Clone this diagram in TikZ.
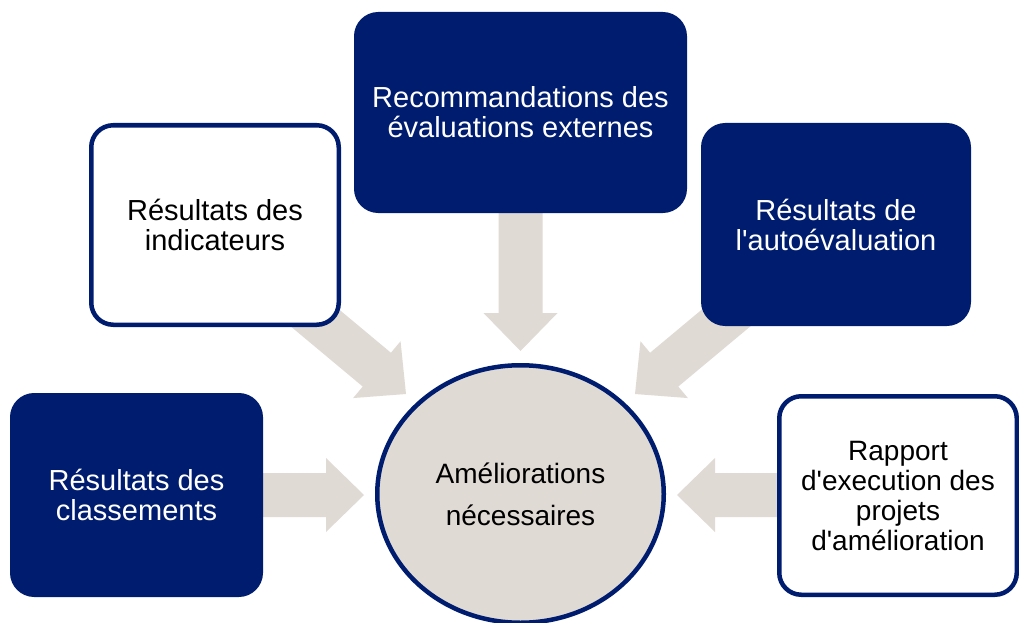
\documentclass[tikz,border=0pt]{standalone}
\usepackage{fontspec}
\setmainfont{Liberation Sans}
\usetikzlibrary{calc,shapes.geometric}
\definecolor{navy}{RGB}{0,28,110}
\definecolor{sand}{RGB}{223,218,211}
\newcommand\blockarrow[3]{% #1 prefix, #2 start, #3 tip
  \coordinate (#1h) at ($(#3)!38pt!(#2)$);
  \fill[sand] ($(#2)!22pt!90:(#3)$) -- ($(#1h)!22pt!90:(#3)$) -- ($(#1h)!37pt!90:(#3)$)
    -- (#3) -- ($(#1h)!37pt!-90:(#3)$) -- ($(#1h)!22pt!-90:(#3)$) -- ($(#2)!22pt!-90:(#3)$) -- cycle;
}
\tikzset{
  box/.style={rectangle, rounded corners=22pt, line width=4.5pt, align=center,
    font=\fontsize{29}{30}\selectfont, inner sep=0pt},
  darkbox/.style={box, draw=navy, fill=navy, text=white},
  lightbox/.style={box, draw=navy, fill=white, text=black},
}
\begin{document}
\begin{tikzpicture}[x=1pt,y=-1pt]
\useasboundingbox (0,0) rectangle (1019,623);
% anchor coordinates for arrows
\coordinate (tS) at (520.5,200);
\coordinate (tT) at (520.5,351);
\coordinate (lS) at (250,495);
\coordinate (lT) at (364,495);
\coordinate (rS) at (790,495);
\coordinate (rT) at (677,495);
\coordinate (ulT) at (406,394);
\coordinate (ulS) at (291,298);
\coordinate (urT) at (635,394);
\coordinate (urS) at (750,298);
\blockarrow{t}{tS}{tT}
\blockarrow{l}{lS}{lT}
\blockarrow{r}{rS}{rT}
\blockarrow{ul}{ulS}{ulT}
\blockarrow{ur}{urS}{urT}
% boxes
\node[darkbox, minimum width=328.5pt, minimum height=196.5pt] (top) at (520.5,112.5)
  {Recommandations des\\évaluations externes};
\node[lightbox, minimum width=247.5pt, minimum height=199.5pt] (ul) at (215,225)
  {Résultats des\\indicateurs};
\node[darkbox, minimum width=265.5pt, minimum height=198.5pt] (ur) at (836,224.5)
  {Résultats de\\l\textquotesingle autoévaluation};
\node[darkbox, minimum width=248.5pt, minimum height=199.5pt] (ll) at (136.5,495)
  {Résultats des\\classements};
\node[lightbox, minimum width=237.5pt, minimum height=198.5pt, font=\fontsize{28}{30}\selectfont] (lr) at (898,495.5)
  {Rapport\\d\textquotesingle execution des\\projets\\d\textquotesingle amélioration};
\node[ellipse, draw=navy, fill=sand, line width=4.5pt, minimum width=286.5pt, minimum height=257.5pt,
  inner sep=0pt, align=center, font=\fontsize{28}{42}\selectfont] (c) at (520.5,494)
  {Améliorations\\nécessaires};
\end{tikzpicture}
\end{document}
